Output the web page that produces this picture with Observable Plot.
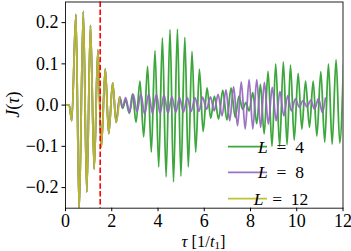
<!DOCTYPE html>
<html><head><meta charset="utf-8">
<script src="https://cdn.jsdelivr.net/npm/d3@7"></script>
<script src="https://cdn.jsdelivr.net/npm/@observablehq/plot@0.6"></script>
<style>body{margin:0;background:#fff} #chart{position:relative;width:351px;height:251px}</style>
</head><body><div id="chart"></div>
<script>
// shared early part (all three system sizes coincide), extrema
const commonT = [0, 0.16, 0.27, 0.45, 0.59, 0.77, 0.92, 1.08, 1.24, 1.40, 1.55, 1.72, 1.87, 2.04, 2.19];
const commonJ = [0, 0, -0.038, 0.22, -0.256, 0.227, -0.211, 0.193, -0.155, 0.134, -0.102, 0.088, -0.069, 0.054, -0.042];
// L = 12 ends shortly after
const l12T = [2.34];
const l12J = [0.019];
// L = 8 continuation
const l8T = [2.34, 2.46, 2.60, 2.77, 2.93, 3.09, 3.26, 3.42, 3.60, 3.76, 3.93, 4.09, 4.26, 4.43,
  4.60, 4.77, 4.93, 5.10, 5.27, 5.43, 5.60, 5.77, 5.93, 6.10, 6.27, 6.43, 6.60, 6.77, 6.94, 7.10,
  7.27, 7.44, 7.60, 7.77, 7.94, 8.10, 8.27, 8.44, 8.60, 8.77, 8.94, 9.11, 9.27, 9.44, 9.61, 9.77,
  9.94, 10.11, 10.27, 10.44, 10.61, 10.77, 10.94, 11.11, 11.24];
const l8J = [0.020, -0.006, 0.018, -0.018, 0.026, -0.016, 0.027, -0.022, 0.027, -0.020, 0.026, -0.020, 0.025, -0.020,
  0.020, -0.017, 0.018, -0.017, 0.018, -0.016, 0.018, -0.015, 0.019, -0.010, 0.020, -0.014, 0.026, -0.026, 0.037, -0.038,
  0.044, -0.050, 0.056, -0.058, 0.062, -0.058, 0.062, -0.054, 0.055, -0.046, 0.043, -0.038, 0.033, -0.026, 0.023, -0.014,
  0.015, -0.005, 0.011, -0.004, 0.012, -0.010, 0.016, -0.018, 0.017];
// L = 4 continuation
const l4T = [2.35, 2.47, 2.60, 2.76, 2.90, 3.05, 3.22, 3.38, 3.55, 3.71, 3.87, 4.03, 4.19, 4.35, 4.52, 4.67,
  4.84, 4.99, 5.16, 5.31, 5.47, 5.63, 5.79, 5.95, 6.12, 6.28, 6.44, 6.62, 6.80, 6.98, 7.16, 7.34,
  7.50, 7.66, 7.80, 7.94, 8.10, 8.27, 8.43, 8.59, 8.76, 8.93, 9.09, 9.26, 9.42, 9.58, 9.73, 9.89,
  10.06, 10.22, 10.38, 10.55, 10.71, 10.87, 11.04, 11.21, 11.37, 11.53, 11.70, 11.86, 12.02];
const l4J = [0.020, -0.008, 0.012, -0.020, 0.027, -0.042, 0.058, -0.077, 0.094, -0.114, 0.132, -0.150, 0.163, -0.174, 0.183, -0.186,
  0.184, -0.172, 0.164, -0.150, 0.130, -0.114, 0.087, -0.064, 0.042, -0.032, 0.022, -0.034, 0.036, -0.036, 0.042, -0.030,
  0.022, -0.010, 0.006, -0.014, 0.030, -0.045, 0.050, -0.070, 0.082, -0.100, 0.100, -0.100, 0.105, -0.096, 0.097, -0.085,
  0.077, -0.058, 0.058, -0.054, 0.058, -0.075, 0.081, -0.090, 0.100, -0.095, 0.110, -0.092, 0.100, -0.085];
const seriesNames = ["L = 4", "L = 8", "L = 12"];
const seriesColors = ["#2ca02c", "#9467bd", "#bcbd22"];
const quenchTime = [1.5];
const xTicks = [0, 2, 4, 6, 8, 10, 12];
const yTicks = [-0.2, -0.1, 0.0, 0.1, 0.2];

const rows = (ts, js) => ts.map((t, i) => ({t, J: js[i]}));
const common = rows(commonT, commonJ);
const data4 = common.concat(rows(l4T, l4J));
const data8 = common.concat(rows(l8T, l8J));
const data12 = common.concat(rows(l12T, l12J));

const fmt = d => (d < 0 ? "\u2212" : "") + Math.abs(d).toFixed(1);
const lineOpts = (c) => ({x: "t", y: "J", stroke: c, strokeWidth: 1.8, strokeOpacity: 0.92, curve: "monotone-x", clip: true});

const plot = Plot.plot({
  width: 351, height: 251,
  marginLeft: 65, marginRight: 8.5, marginTop: 1.5, marginBottom: 43.3,
  style: {fontFamily: "Liberation Serif, serif", fontSize: "18px", background: "#fff", color: "#000"},
  x: {domain: [0, 12]},
  y: {domain: [-0.25, 0.25]},
  marks: [
    Plot.line(data4, lineOpts(seriesColors[0])),
    Plot.line(data8, lineOpts(seriesColors[1])),
    Plot.line(data12, lineOpts(seriesColors[2])),
    Plot.ruleX(quenchTime, {stroke: "#ff0000", strokeWidth: 1.6, strokeDasharray: "5.5,2.4"}),
    Plot.frame({stroke: "#222", strokeWidth: 1}),
    Plot.axisX({ticks: xTicks, tickSize: 3.5, tickPadding: 3, label: null, tickFormat: d => String(d)}),
    Plot.axisY({ticks: yTicks, tickSize: 3.5, tickPadding: 3.5, label: null, tickFormat: fmt})
  ]
});
document.getElementById("chart").appendChild(plot);

const svg = d3.select(plot);
// x label
const xl = svg.append("text").attr("x", 203.5).attr("y", 246.5).attr("text-anchor", "middle")
  .attr("font-size", 16.5).attr("font-family", "Liberation Serif, serif");
xl.append("tspan").attr("font-style", "italic").text("τ");
xl.append("tspan").text(" [1/");
xl.append("tspan").attr("font-style", "italic").text("t");
xl.append("tspan").attr("font-size", 11).attr("dy", 2.5).text("1");
xl.append("tspan").attr("dy", -2.5).text("]");
// y label
const yl = svg.append("text").attr("transform", "translate(19,104.6) rotate(-90)").attr("text-anchor", "middle")
  .attr("font-size", 18).attr("font-family", "Liberation Serif, serif");
yl.append("tspan").attr("font-style", "italic").text("J");
yl.append("tspan").text("(");
yl.append("tspan").attr("font-style", "italic").text("τ");
yl.append("tspan").text(")");
// legend
const legY = [146.7, 172.3, 198.7];
const legG = svg.append("g");
seriesNames.forEach((name, i) => {
  legG.append("line").attr("x1", 228).attr("x2", 267).attr("y1", legY[i]).attr("y2", legY[i])
    .attr("stroke", seriesColors[i]).attr("stroke-width", 1.8).attr("stroke-opacity", 0.92);
  const t = legG.append("text").attr("x", 281).attr("y", legY[i] + 6).attr("font-size", 17.5)
    .attr("font-family", "Liberation Serif, serif");
  const [a, b] = name.split(" = ");
  t.append("tspan").attr("font-style", "italic").text(a);
  t.append("tspan").text("\u2002=\u2002" + b);
});
</script>
</body></html>
